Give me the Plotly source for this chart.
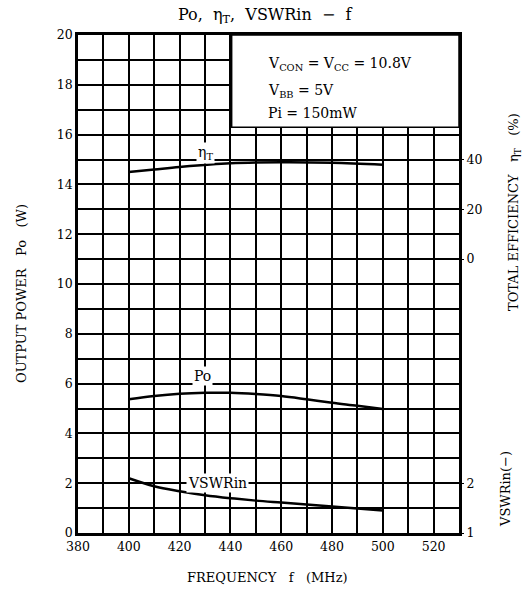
import plotly.graph_objects as go

# ---- data ----
freq_mhz = [400, 410, 420, 430, 440, 450, 460, 470, 480, 490, 500]
po_w = [5.37, 5.50, 5.59, 5.63, 5.63, 5.58, 5.50, 5.37, 5.23, 5.11, 4.98]
eta_freq = [400, 410, 420, 440, 460, 480, 500]
eta_pct = [35.0, 36.0, 37.0, 38.5, 38.9, 38.7, 37.9]
vswr = [2.10, 1.94, 1.84, 1.76, 1.70, 1.65, 1.61, 1.57, 1.53, 1.49, 1.45]

x_tickvals = list(range(380, 531, 10))
x_ticktext = ["380", "", "400", "", "420", "", "440", "", "460", "", "480", "", "500", "", "520", ""]
y_tickvals = list(range(0, 21))
y_ticktext = [str(v) if v % 2 == 0 else "" for v in y_tickvals]
eta_tickvals = [0, 20, 40]
vswr_tickvals = [1, 2]

FONT = "DejaVu Serif"
fig = go.Figure()

fig.add_trace(go.Scatter(x=freq_mhz, y=po_w, mode="lines", yaxis="y",
                         line=dict(color="black", width=2.5, shape="spline", smoothing=1.0)))
fig.add_trace(go.Scatter(x=eta_freq, y=eta_pct, mode="lines", yaxis="y2",
                         line=dict(color="black", width=2.5, shape="spline", smoothing=1.0)))
fig.add_trace(go.Scatter(x=freq_mhz, y=vswr, mode="lines", yaxis="y3",
                         line=dict(color="black", width=2.5, shape="spline", smoothing=1.0)))

fig.update_layout(
    width=527, height=589,
    margin=dict(l=78, r=68, t=35, b=56),
    paper_bgcolor="white", plot_bgcolor="white",
    showlegend=False,
    font=dict(family=FONT, size=12, color="black"),
    xaxis=dict(range=[380, 530], tickvals=x_tickvals, ticktext=x_ticktext,
               showgrid=True, gridcolor="black", gridwidth=1.5,
               showline=True, linecolor="black", linewidth=2.5, mirror=True,
               ticks="", zeroline=False, tickfont=dict(size=12.5)),
    yaxis=dict(range=[0, 20], tickvals=y_tickvals, ticktext=y_ticktext,
               showgrid=True, gridcolor="black", gridwidth=1.5,
               showline=True, linecolor="black", linewidth=2.5, mirror=True,
               ticks="", zeroline=False, tickfont=dict(size=12.5)),
    yaxis2=dict(range=[-110, 90], overlaying="y", side="right", anchor="x",
                tickvals=eta_tickvals, showgrid=False, zeroline=False,
                showline=False, ticks="outside", ticklen=4, tickcolor="black",
                tickfont=dict(size=12.5)),
    yaxis3=dict(range=[1, 11], overlaying="y", side="right", anchor="x",
                tickvals=vswr_tickvals, showgrid=False, zeroline=False,
                showline=False, ticks="outside", ticklen=4, tickcolor="black",
                tickfont=dict(size=12.5)),
)

# condition box
fig.add_shape(type="rect", xref="x", yref="y", x0=440.5, x1=530, y0=16.3, y1=20,
              fillcolor="white", line=dict(color="black", width=1.5), layer="above")

def px_x(p):
    return (p - 78) / 381.0

def px_y(p):
    return (533 - p) / 498.0

SP = "\u00a0"
fig.add_annotation(text="Po," + SP * 2 + "η<sub>T</sub>," + SP * 2 + "VSWRin" + SP * 2 + "−" + SP * 2 + "f",
                   xref="paper", yref="paper", x=px_x(265), y=px_y(16),
                   showarrow=False, font=dict(size=16, family=FONT),
                   xanchor="center", yanchor="middle")
fig.add_annotation(text="FREQUENCY" + SP * 3 + "f" + SP * 3 + "(MHz)",
                   xref="paper", yref="paper", x=px_x(267), y=px_y(577),
                   showarrow=False, font=dict(size=13, family=FONT),
                   xanchor="center", yanchor="middle")
fig.add_annotation(text="OUTPUT" + SP + "POWER" + SP * 3 + "Po" + SP * 3 + "(W)",
                   xref="paper", yref="paper",
                   x=px_x(21), y=px_y(294), textangle=-90, showarrow=False,
                   font=dict(size=13, family=FONT), xanchor="center", yanchor="middle")
fig.add_annotation(text="TOTAL" + SP + "EFFICIENCY" + SP * 3 + "η<sub>T</sub>" + SP * 3 + "(%)",
                   xref="paper", yref="paper",
                   x=px_x(514), y=px_y(212), textangle=-90, showarrow=False,
                   font=dict(size=13, family=FONT), xanchor="center", yanchor="middle")
fig.add_annotation(text="VSWRin(−)", xref="paper", yref="paper",
                   x=px_x(505), y=px_y(489), textangle=-90, showarrow=False,
                   font=dict(size=13, family=FONT), xanchor="center", yanchor="middle")

# condition text
for txt, py in [("V<sub>CON</sub>" + SP + "=" + SP + "V<sub>CC</sub>" + SP + "=" + SP + "10.8V", 64),
                ("V<sub>BB</sub>" + SP + "=" + SP + "5V", 91),
                ("Pi" + SP + "=" + SP + "150mW", 113)]:
    fig.add_annotation(text=txt, xref="paper", yref="paper", x=px_x(266), y=px_y(py),
                       showarrow=False, xanchor="left", yanchor="middle",
                       font=dict(size=14, family=FONT))

# curve labels
fig.add_annotation(text="η<sub>T</sub>", x=430, y=15.25, xref="x", yref="y", showarrow=False,
                   bgcolor="white", font=dict(size=14, family=FONT))
fig.add_annotation(text="Po", x=429.2, y=6.3, xref="x", yref="y", showarrow=False,
                   bgcolor="white", font=dict(size=14, family=FONT))
fig.add_annotation(text="VSWRin", x=435.1, y=2.0, xref="x", yref="y", showarrow=False,
                   bgcolor="white", font=dict(size=14, family=FONT))

fig.write_html("out.html")
